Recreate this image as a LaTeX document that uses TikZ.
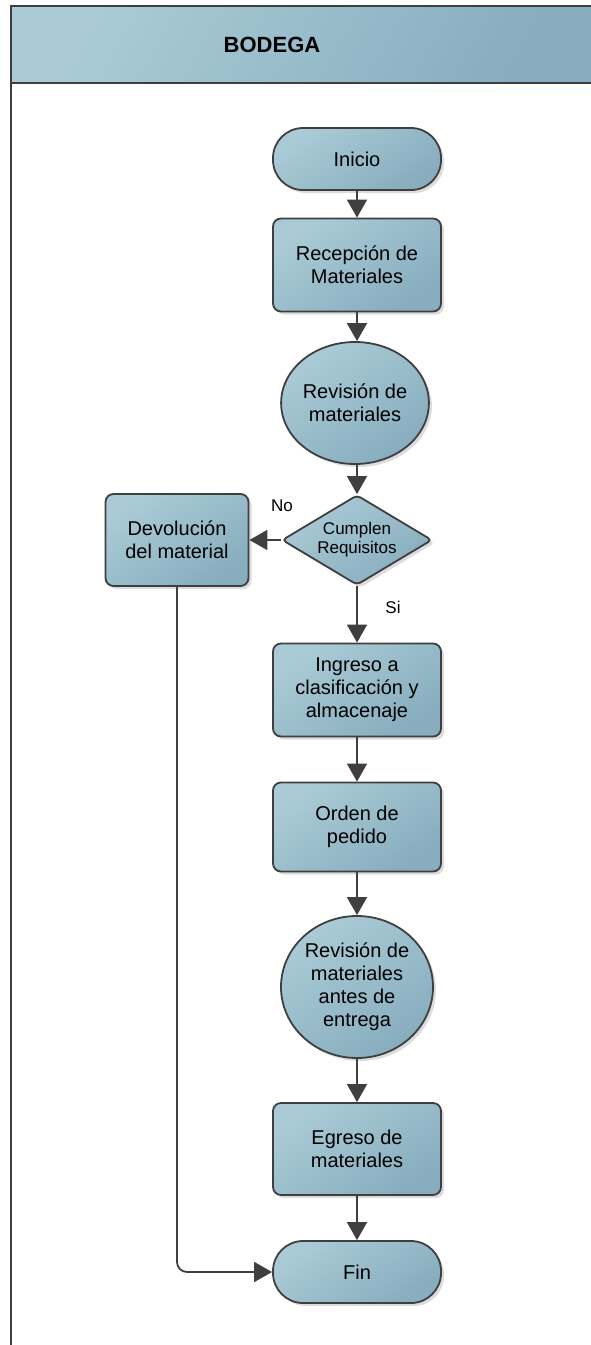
\documentclass[tikz,border=0pt]{standalone}
\usepackage{fontspec}
\setmainfont{Liberation Sans}
\usetikzlibrary{arrows.meta,shapes.geometric,shadows}
\definecolor{lc}{HTML}{3F3F3F}
\definecolor{fa}{HTML}{AACBD6}
\definecolor{fb}{HTML}{87ADBE}
\tikzset{
  base/.style={draw=lc, line width=1.8pt, top color=fa, bottom color=fb, shading angle=35,
    drop shadow={shadow xshift=3pt, shadow yshift=-3pt, fill=black!30, opacity=0.45},
    align=center, inner sep=0pt, font=\fontsize{20}{23}\selectfont},
  procbox/.style={base, rectangle, rounded corners=8pt},
  termbox/.style={base, rectangle, rounded corners=30pt, minimum width=168pt, minimum height=62pt},
  ellbox/.style={base, ellipse},
  decbox/.style={base, diamond, aspect=1.67, rounded corners=4pt, minimum width=150pt, minimum height=90pt, font=\fontsize{17}{19}\selectfont},
  flow/.style={draw=lc, line width=1.8pt, -{Triangle[length=18pt,width=20pt]}},
  lbl/.style={font=\fontsize{17}{19}\selectfont, inner sep=0pt}
}
\begin{document}
\begin{tikzpicture}[x=1pt,y=-1pt]
\useasboundingbox (0,0) rectangle (591,1345);
% lane
\shade[top color=fa, bottom color=fb, shading angle=60] (11,6) rectangle (595,83);
\draw[lc, line width=1.6pt] (595,6) -- (11,6) -- (11,1350);
\draw[lc, line width=1.6pt] (11,83) -- (595,83);
\node[font=\fontsize{22}{24}\selectfont\bfseries] (hdr) at (272,45) {BODEGA};
% nodes
\node[termbox] (ini) at (357,159) {Inicio};
\node[procbox, minimum width=168pt, minimum height=93pt] (rec) at (357,265) {Recepción de\\Materiales};
\node[ellbox, minimum width=134pt, minimum height=122pt] (rev1) at (355,403) {Revisión de\\materiales};
\node[decbox] (dec) at (357,540) {Cumplen\\Requisitos};
\node[procbox, minimum width=143pt, minimum height=92pt] (dev) at (177,540) {Devolución\\del material};
\node[procbox, minimum width=168pt, minimum height=93pt] (ing) at (357,690) {Ingreso a\\clasificación y\\almacenaje};
\node[procbox, minimum width=168pt, minimum height=89pt] (ord) at (357,827) {Orden de\\pedido};
\node[ellbox, minimum width=152pt, minimum height=142pt] (rev2) at (357,987) {Revisión de\\materiales\\antes de\\entrega};
\node[procbox, minimum width=168pt, minimum height=92pt] (egr) at (357,1149) {Egreso de\\materiales};
\node[termbox] (fin) at (357,1272) {Fin};
% labels
\node[lbl] (no) at (282,506) {No};
\node[lbl] (si) at (393,607) {Si};
% connectors
\draw[flow] (ini.south) -- (rec.north);
\draw[flow] (rec.south) -- (rec.south |- rev1.north);
\draw[flow] (rev1.south -| dec.north) -- (dec.north);
\draw[flow] (dec.west) -- (dev.east);
\draw[flow] (dec.south) -- (ing.north);
\draw[flow] (ing.south) -- (ord.north);
\draw[flow] (ord.south) -- (rev2.north);
\draw[flow] (rev2.south) -- (egr.north);
\draw[flow] (egr.south) -- (fin.north);
\draw[flow, rounded corners=10pt] (dev.south) |- (fin.west);
\end{tikzpicture}
\end{document}
